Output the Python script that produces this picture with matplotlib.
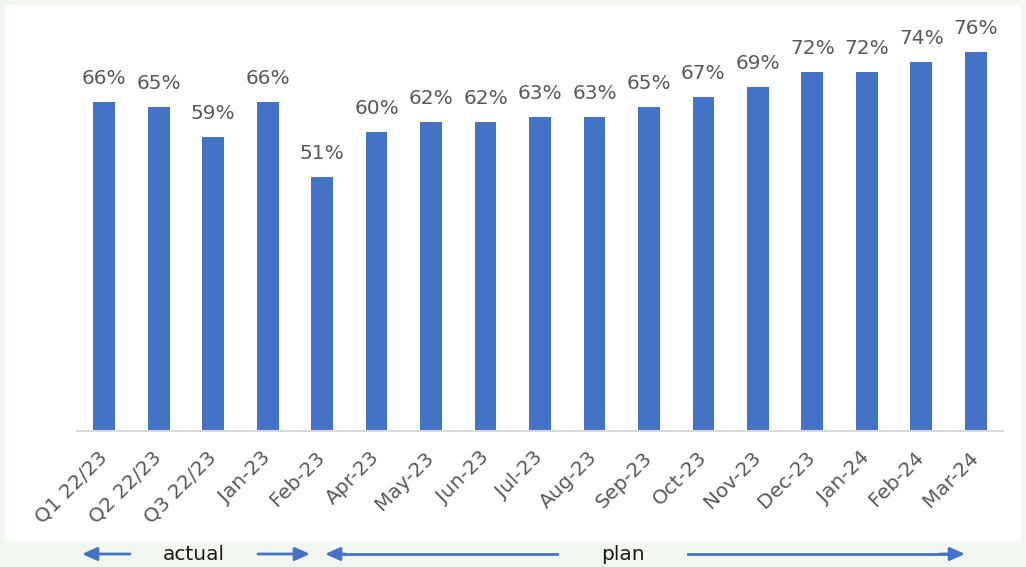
import matplotlib.pyplot as plt
from matplotlib.patches import Rectangle

periods = ["Q1 22/23", "Q2 22/23", "Q3 22/23", "Jan-23", "Feb-23", "Apr-23",
           "May-23", "Jun-23", "Jul-23", "Aug-23", "Sep-23", "Oct-23",
           "Nov-23", "Dec-23", "Jan-24", "Feb-24", "Mar-24"]
share = [66, 65, 59, 66, 51, 60, 62, 62, 63, 63, 65, 67, 69, 72, 72, 74, 76]
phase_labels = ["actual", "plan"]

W, H = 1026, 567
bar_blue = "#4472C4"
label_grey = "#595959"

fig = plt.figure(figsize=(W / 100, H / 100), dpi=100, facecolor="#F2F7F0")

# white chart panel above the green strip
fig.patches.append(Rectangle((5 / W, 26 / H), 1016 / W, 536 / H,
                             transform=fig.transFigure, facecolor="white",
                             edgecolor="none", zorder=-10))

ax = fig.add_axes([77 / W, 136 / H, 926 / W, 399 / H])
ax.patch.set_alpha(0)

x = range(len(periods))
bars = ax.bar(x, share, width=0.4, color=bar_blue, zorder=2)
for b, v in zip(bars, share):
    ax.annotate(f"{v}%", (b.get_x() + b.get_width() / 2, v),
                xytext=(0, 10), textcoords="offset points",
                ha="center", va="bottom", fontsize=14.5, color=label_grey)

ax.set_xlim(-0.5, len(periods) - 0.5)
ax.set_ylim(0, 80)
ax.set_yticks([])
for s in ["top", "right", "left"]:
    ax.spines[s].set_visible(False)
ax.spines["bottom"].set_color("#D9D9D9")
ax.spines["bottom"].set_linewidth(1.5)

ax.set_xticks(list(x))
ax.set_xticklabels(periods, rotation=45, ha="right", va="center",
                   rotation_mode="anchor", fontsize=14.5, color=label_grey)
ax.tick_params(axis="x", length=0, pad=17)

# phase arrows along the bottom strip
ay = 1 - 554 / H


def arrow(x0, x1):
    fig.add_artist(plt.Line2D([x0 / W, x1 / W], [ay, ay], color=bar_blue,
                              lw=2, transform=fig.transFigure))


def head(tip, tail):
    ax.annotate("", xy=(tip / W, ay), xytext=(tail / W, ay),
                xycoords="figure fraction", textcoords="figure fraction",
                arrowprops=dict(arrowstyle="-|>,head_length=0.9,head_width=0.4",
                                color=bar_blue, lw=2, shrinkA=0, shrinkB=0))


head(82, 130)
head(310, 258)
arrow(330, 557)
head(325, 345)
arrow(688, 950)
head(965, 940)

fig.text(194 / W, ay, phase_labels[0], ha="center", va="center",
         fontsize=14.5, color="#1a1a1a")
fig.text(623 / W, ay, phase_labels[1], ha="center", va="center",
         fontsize=14.5, color="#1a1a1a")

fig.savefig("out.png", dpi=100, facecolor=fig.get_facecolor())
